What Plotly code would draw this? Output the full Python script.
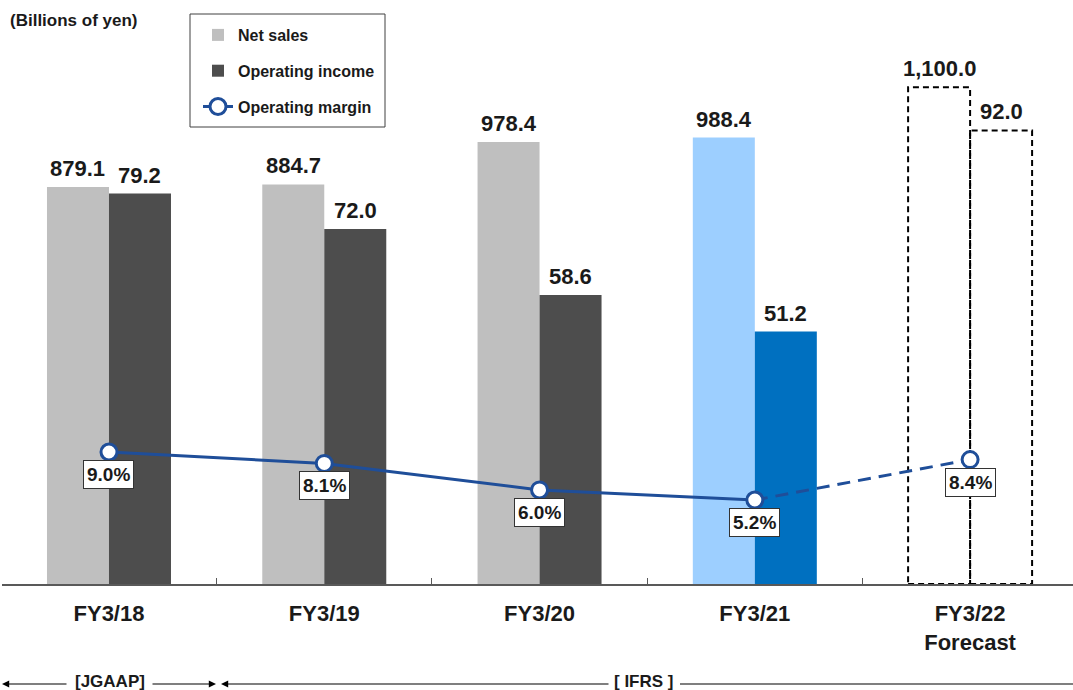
import plotly.graph_objects as go

# ---- data -------------------------------------------------------------
categories = ["FY3/18", "FY3/19", "FY3/20", "FY3/21", "FY3/22<br>Forecast"]
net_sales = [879.1, 884.7, 978.4, 988.4, 1100.0]
operating_income = [79.2, 72.0, 58.6, 51.2, 92.0]
operating_margin = [9.0, 8.1, 6.0, 5.2, 8.4]

# ---- styling ----------------------------------------------------------
W, H = 1073, 690
ML, MR, MT, MB = 2, 0, 0, 106
PW, PH = W - ML - MR, H - MT - MB

FONT = "Arial, 'Liberation Sans', sans-serif"
TXT = "#1a1a1a"
GRAY_LIGHT, GRAY_DARK = "#BFBFBF", "#4D4D4D"
BLUE_LIGHT, BLUE_DARK = "#9DCFFF", "#0070C0"
LINE_BLUE = "#1F4E99"
CLEAR = "rgba(0,0,0,0)"
BAR_W = 0.288


def px_x(px):
    return (px - ML) / PW


def px_y(py):
    return (MT + PH - py) / PH


sales_colors = [GRAY_LIGHT, GRAY_LIGHT, GRAY_LIGHT, BLUE_LIGHT, CLEAR]
income_colors = [GRAY_DARK, GRAY_DARK, GRAY_DARK, BLUE_DARK, CLEAR]

fig = go.Figure()

fig.add_trace(go.Bar(
    x=categories, y=net_sales, name="Net sales", yaxis="y",
    width=BAR_W, offset=-BAR_W, marker=dict(color=sales_colors, line=dict(width=0)),
    legendgroup="a", hoverinfo="y",
))
fig.add_trace(go.Bar(
    x=categories, y=operating_income, name="Operating income", yaxis="y2",
    width=BAR_W, offset=0, marker=dict(color=income_colors, line=dict(width=0)),
    legendgroup="b", hoverinfo="y",
))

# operating margin: actual results solid, forecast leg dashed
fig.add_trace(go.Scatter(
    x=categories[3:], y=operating_margin[3:], yaxis="y3", mode="lines",
    line=dict(color=LINE_BLUE, width=3, dash="13px,8px"), showlegend=False,
    hoverinfo="skip",
))
fig.add_trace(go.Scatter(
    x=categories[:4], y=operating_margin[:4], yaxis="y3", mode="lines+markers",
    name="Operating margin", legendgroup="c",
    line=dict(color=LINE_BLUE, width=3),
    marker=dict(size=16, color="white", line=dict(color=LINE_BLUE, width=3)),
))
fig.add_trace(go.Scatter(
    x=categories[4:], y=operating_margin[4:], yaxis="y3", mode="markers",
    marker=dict(size=16, color="white", line=dict(color=LINE_BLUE, width=3)),
    showlegend=False,
))

# dashed outlines for the forecast year
shapes = [
    dict(type="rect", xref="x", yref="y", x0=4 - BAR_W, x1=4, y0=0, y1=net_sales[4],
         line=dict(color="black", width=2, dash="6px,4px"), layer="below"),
    dict(type="rect", xref="x", yref="y2", x0=4, x1=4 + BAR_W, y0=0, y1=operating_income[4],
         line=dict(color="black", width=2, dash="6px,4px"), layer="below"),
    # legend frame
    dict(type="rect", xref="paper", yref="paper", x0=px_x(190), x1=px_x(385),
         y0=px_y(127), y1=px_y(14), line=dict(color="#404040", width=1)),
]

annotations = []
VALUE_FONT = dict(family=FONT, size=22, color=TXT, weight="bold")

# value labels above each bar
for i, v in enumerate(net_sales):
    annotations.append(dict(
        x=i - BAR_W / 2, y=v, xref="x", yref="y", text=f"{v:,.1f}",
        showarrow=False, xanchor="center", yanchor="bottom", yshift=4, font=VALUE_FONT,
    ))
for i, v in enumerate(operating_income):
    annotations.append(dict(
        x=i + BAR_W / 2, y=v, xref="x", yref="y2", text=f"{v:,.1f}",
        showarrow=False, xanchor="center", yanchor="bottom", yshift=4, font=VALUE_FONT,
    ))

# operating margin labels
for c, v in zip(categories, operating_margin):
    annotations.append(dict(
        x=c, y=v, xref="x", yref="y3", text=f"{v:.1f}%", showarrow=False,
        xanchor="center", yanchor="top", yshift=-8,
        font=dict(family=FONT, size=19, color=TXT, weight="bold"),
        bgcolor="white", bordercolor="#333333", borderwidth=1, borderpad=3,
    ))

annotations.append(dict(
    x=px_x(8), y=px_y(21), xref="paper", yref="paper", xanchor="left", yanchor="middle",
    text="(Billions of yen)", showarrow=False,
    font=dict(family=FONT, size=17, color=TXT, weight="bold"),
))

# accounting standard brackets
ARR_Y = px_y(684)
TXT_Y = px_y(681)
annotations += [
    dict(x=px_x(110), y=TXT_Y, xref="paper", yref="paper", text="[JGAAP]", showarrow=False,
         xanchor="center", yanchor="middle",
         font=dict(family=FONT, size=17, color=TXT, weight="bold")),
    dict(x=px_x(644), y=TXT_Y, xref="paper", yref="paper", text="[ IFRS ]", showarrow=False,
         xanchor="center", yanchor="middle",
         font=dict(family=FONT, size=17, color=TXT, weight="bold")),
    dict(x=px_x(2), y=ARR_Y, xref="paper", yref="paper", ax=66, ay=0, text="",
         showarrow=True, arrowhead=2, arrowsize=1.2, arrowwidth=1.2, arrowcolor="black"),
    dict(x=px_x(216), y=ARR_Y, xref="paper", yref="paper", ax=-65, ay=0, text="",
         showarrow=True, arrowhead=2, arrowsize=1.2, arrowwidth=1.2, arrowcolor="black"),
    dict(x=px_x(221), y=ARR_Y, xref="paper", yref="paper", ax=389, ay=0, text="",
         showarrow=True, arrowhead=2, arrowsize=1.2, arrowwidth=1.2, arrowcolor="black"),
]
shapes.append(dict(type="line", xref="paper", yref="paper", x0=px_x(680), x1=px_x(1073),
                   y0=ARR_Y, y1=ARR_Y, line=dict(color="black", width=1.2)))

fig.update_layout(
    width=W, height=H, autosize=False,
    margin=dict(l=ML, r=MR, t=MT, b=MB),
    paper_bgcolor="white", plot_bgcolor="white",
    font=dict(family=FONT, color=TXT),
    barmode="overlay",
    showlegend=True,
    legend=dict(
        x=px_x(198), y=px_y(18), xanchor="left", yanchor="top",
        bgcolor=CLEAR, borderwidth=0, tracegroupgap=12,
        font=dict(family=FONT, size=16, color=TXT, weight="bold"),
        traceorder="grouped",
    ),
    xaxis=dict(
        type="category", range=[-0.497, 4.478],
        showline=True, linecolor="#595959", linewidth=1.5,
        ticks="inside", tickson="boundaries", ticklen=6, tickcolor="#595959",
        showgrid=False, zeroline=False,
        tickfont=dict(family=FONT, size=22, color=TXT, weight="bold"),
        ticklabelstandoff=9,
    ),
    yaxis=dict(range=[0, 1293], visible=False, showgrid=False, zeroline=False),
    yaxis2=dict(range=[0, 118.46], overlaying="y", visible=False, showgrid=False, zeroline=False),
    yaxis3=dict(range=[-1.45, 44.79], overlaying="y", visible=False, showgrid=False, zeroline=False),
    shapes=shapes,
    annotations=annotations,
)

fig.write_html("out.html")
